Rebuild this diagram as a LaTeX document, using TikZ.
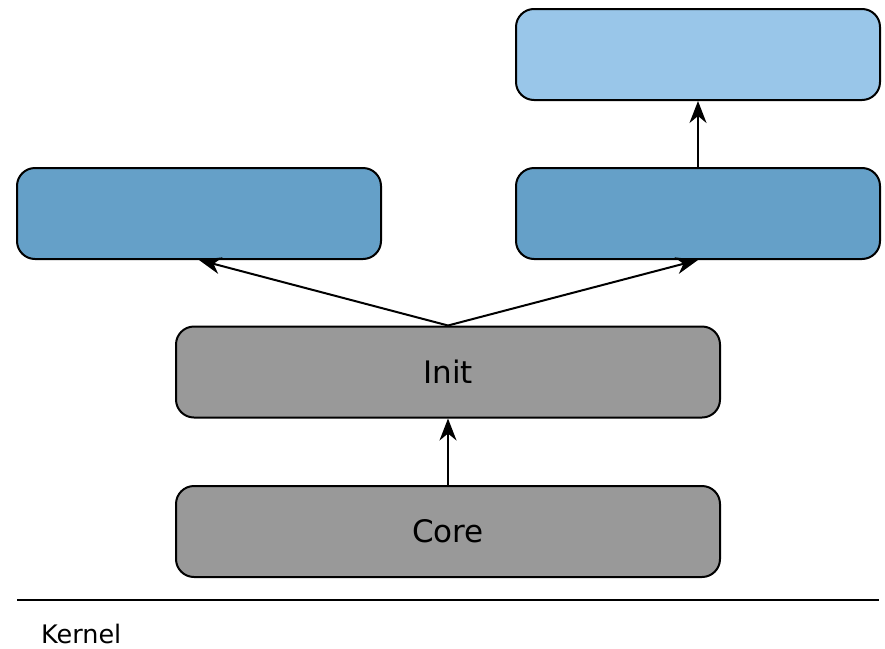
\documentclass[tikz,border=0pt]{standalone}
\usepackage{fontspec}
\setmainfont{DejaVu Sans}
\usetikzlibrary{arrows.meta}
\definecolor{midblue}{HTML}{65A0C8}
\definecolor{lightblue}{HTML}{99C6E9}
\definecolor{boxgray}{HTML}{999999}
\begin{document}
\begin{tikzpicture}[x=1pt,y=-1pt,
  box/.style={draw=black,line width=2pt,rounded corners=18pt,minimum width=364pt,minimum height=91pt,inner sep=0pt,font=\fontsize{31}{37}\selectfont},
  wide/.style={box,minimum width=544pt,fill=boxgray},
  arr/.style={line width=2pt,arrows={-Stealth[length=22pt,width=17pt,inset=7pt]}}]
\useasboundingbox (0,0) rectangle (885,648);
\node[box,fill=lightblue] (top) at (698,54.5) {};
\node[box,fill=midblue] (left) at (199,213.5) {};
\node[box,fill=midblue] (right) at (698,213.5) {};
\node[wide] (init) at (448,372) {Init};
\node[wide] (core) at (448,531.5) {Core};
\draw[arr] (core.north) -- (init.south);
\draw[arr] (init.north) -- (left.south);
\draw[arr] (init.north) -- (right.south);
\draw[arr] (right.north) -- (top.south);
\coordinate (la) at (17,600);
\coordinate (lb) at (879,600);
\draw[line width=2pt] (la) -- (lb);
\node[anchor=base west,inner sep=0pt,font=\fontsize{25.5}{30}\selectfont] (kernel) at (41,643) {Kernel};
\end{tikzpicture}
\end{document}
